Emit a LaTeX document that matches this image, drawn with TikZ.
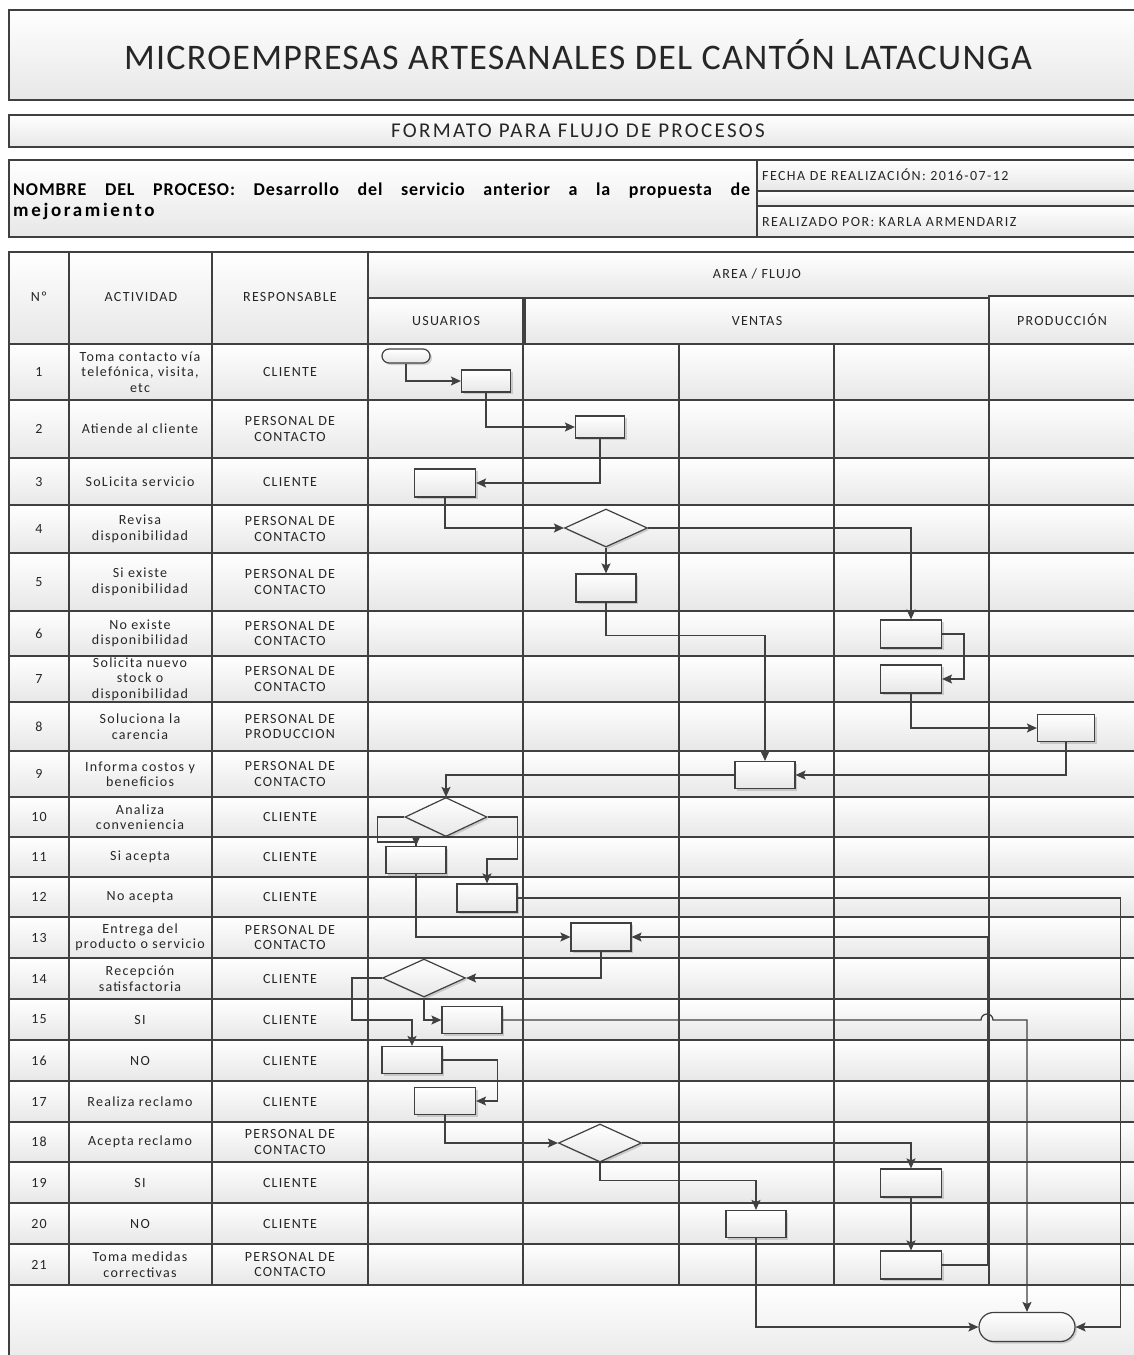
\documentclass[tikz,border=0pt]{standalone}
\usepackage{fontspec}
\setmainfont{Carlito}
\newfontfamily\tabfont[LetterSpace=9]{Carlito}
\newfontfamily\titlefont[LetterSpace=3.5]{Carlito}
\newfontfamily\formfont[LetterSpace=11]{Carlito}
\newfontfamily\infofont[LetterSpace=10]{Carlito}
\newfontfamily\namefont[LetterSpace=5]{Carlito}
\newfontfamily\namewidefont[LetterSpace=14]{Carlito}
\usetikzlibrary{arrows.meta,shapes.geometric,shadows}
\definecolor{linec}{HTML}{404040}
\definecolor{cellbot}{HTML}{E7E7E7}
\tikzset{
  cell/.style={draw=linec, line width=1.2pt, top color=white, bottom color=cellbot},
  hdr/.style={draw=linec, line width=1.2pt, top color=white, bottom color=cellbot},
  shape base/.style={draw=linec, line width=1.2pt, top color=white, bottom color=cellbot,
    inner sep=0pt, drop shadow={shadow xshift=2pt, shadow yshift=-2pt, fill=black, opacity=0.15}},
  flowbox/.style={shape base, rectangle, minimum width=60pt, minimum height=28pt},
  decision/.style={shape base, diamond, minimum width=83pt, minimum height=38pt},
  terminal/.style={shape base, rectangle},
  link/.style={draw=linec, line width=1.3pt},
  flow/.style={link, -{Stealth[length=10pt, width=9pt, inset=2pt]}},
  tcell/.style={font=\tabfont\fontsize{14}{15.5}\selectfont, align=center, inner sep=0pt, text=black!85},
  thead/.style={font=\tabfont\fontsize{14}{15.5}\selectfont, align=center, inner sep=0pt, text=black!85},
}
\begin{document}
\begin{tikzpicture}[x=1pt, y=-1pt]
\useasboundingbox (0,0) rectangle (1134,1355);
\clip (0,0) rectangle (1134,1355);
\fill[white] (0,0) rectangle (1134,1355);

% ---- title blocks ----
\path[hdr] (9,10) rectangle (1140,100);
\node[font=\titlefont\fontsize{36}{42}\selectfont, text=black!85] (title) at (578,55)
  {MICROEMPRESAS ARTESANALES DEL CANTÓN LATACUNGA};
\path[hdr] (9,115) rectangle (1140,147);
\node[font=\formfont\fontsize{21}{24}\selectfont, text=black!85] (formato) at (578,131)
  {FORMATO PARA FLUJO DE PROCESOS};
\path[hdr] (9,160) rectangle (757,237);
\path[hdr] (757,160) rectangle (1140,191);
\path[hdr] (757,191) rectangle (1140,206);
\path[hdr] (757,206) rectangle (1140,237);
\node[anchor=base west, inner sep=0pt, font=\namefont\bfseries\fontsize{18}{22}\selectfont] (nombre1) at (13,195)
  {\makebox[737pt][s]{NOMBRE DEL PROCESO: Desarrollo del servicio anterior a la propuesta de}};
\node[anchor=base west, inner sep=0pt, font=\namewidefont\bfseries\fontsize{19}{22}\selectfont] (nombre2) at (13,216)
  {mejoramiento};
\node[anchor=west, inner sep=0pt, font=\infofont\fontsize{14}{16}\selectfont, text=black!85] (fecha) at (762,175)
  {FECHA DE REALIZACIÓN: 2016-07-12};
\node[anchor=west, inner sep=0pt, font=\infofont\fontsize{14}{16}\selectfont, text=black!85] (autor) at (762,222)
  {REALIZADO POR: KARLA ARMENDARIZ};

% ---- table header ----
\path[hdr] (9,252) rectangle (69,344);
\path[hdr] (69,252) rectangle (212,344);
\path[hdr] (212,252) rectangle (368,344);
\path[hdr] (368,252) rectangle (1140,298);
\path[hdr] (368,298) rectangle (523,344);
\path[hdr] (525,298) rectangle (989,344);
\path[hdr] (989,296) rectangle (1140,344);
\node[thead] (hnum) at (39,297) {Nº};
\node[thead] (hact) at (141,297) {ACTIVIDAD};
\node[thead] (hresp) at (290,297) {RESPONSABLE};
\node[thead] (harea) at (757,274) {AREA / FLUJO};
\node[thead] (husu) at (446,321) {USUARIOS};
\node[thead] (hven) at (757,321) {VENTAS};
\node[thead] (hprod) at (1062,320) {PRODUCCIÓN};

% ---- table body ----
\foreach \i/\t/\b/\act/\resp in {
  1/344/400/{Toma contacto vía\\telefónica, visita,\\etc}/{CLIENTE},
  2/400/458/{Atiende al cliente}/{PERSONAL DE\\CONTACTO},
  3/458/505/{SoLicita servicio}/{CLIENTE},
  4/505/553/{Revisa\\disponibilidad}/{PERSONAL DE\\CONTACTO},
  5/553/611/{Si existe\\disponibilidad}/{PERSONAL DE\\CONTACTO},
  6/611/656/{No existe\\disponibilidad}/{PERSONAL DE\\CONTACTO},
  7/656/702/{Solicita nuevo\\stock o\\disponibilidad}/{PERSONAL DE\\CONTACTO},
  8/702/751/{Soluciona la\\carencia}/{PERSONAL DE\\PRODUCCION},
  9/751/797/{Informa costos y\\beneficios}/{PERSONAL DE\\CONTACTO},
  10/797/837/{Analiza\\conveniencia}/{CLIENTE},
  11/837/877/{Si acepta}/{CLIENTE},
  12/877/917/{No acepta}/{CLIENTE},
  13/917/958/{Entrega del\\producto o servicio}/{PERSONAL DE\\CONTACTO},
  14/958/999/{Recepción\\satisfactoria}/{CLIENTE},
  15/999/1040/{SI}/{CLIENTE},
  16/1040/1081/{NO}/{CLIENTE},
  17/1081/1122/{Realiza reclamo}/{CLIENTE},
  18/1122/1162/{Acepta reclamo}/{PERSONAL DE\\CONTACTO},
  19/1162/1203/{SI}/{CLIENTE},
  20/1203/1244/{NO}/{CLIENTE},
  21/1244/1285/{Toma medidas\\correctivas}/{PERSONAL DE\\CONTACTO}} {
  \foreach \xa/\xb in {9/69,69/212,212/368,368/523,523/679,679/834,834/989,989/1140}
    \path[cell] (\xa,\t) rectangle (\xb,\b);
  \node[tcell] (num\i) at (39,{(\t+\b)/2}) {\i};
  \node[tcell] (act\i) at (140,{(\t+\b)/2}) {\act};
  \node[tcell] (resp\i) at (290,{(\t+\b)/2}) {\resp};
}
\path[cell] (9,1285) rectangle (1140,1370);

% ---- flow shapes ----
\node[terminal, minimum width=48pt, minimum height=14pt, rounded corners=7pt] (start) at (406,356) {};
\node[flowbox, minimum width=49pt, minimum height=22pt] (b1) at (486,381) {};
\node[flowbox, minimum width=49pt, minimum height=22pt] (b2) at (600,427) {};
\node[flowbox, minimum width=61pt] (b3) at (445,483) {};
\node[decision] (d4) at (606,528) {};
\node[flowbox] (b5) at (606,588) {};
\node[flowbox, minimum width=61pt] (b6) at (911,634) {};
\node[flowbox, minimum width=61pt] (b7) at (911,679) {};
\node[flowbox, minimum width=57pt, minimum height=27pt] (b8) at (1066,728) {};
\node[flowbox, minimum height=27pt] (b9) at (765,775) {};
\node[decision, minimum width=82pt, minimum height=39pt] (d10) at (446,817) {};
\node[flowbox, minimum height=27pt] (b11) at (416,860) {};
\node[flowbox] (b12) at (487,898) {};
\node[flowbox] (b13) at (601,937) {};
\node[decision] (d14) at (424,978) {};
\node[flowbox, minimum height=27pt] (b15) at (472,1020) {};
\node[flowbox, minimum height=27pt] (b16) at (412,1060) {};
\node[flowbox, minimum width=61pt, minimum height=27pt] (b17) at (445,1101) {};
\node[decision] (d18) at (600,1143) {};
\node[flowbox, minimum width=61pt] (b19) at (911,1183) {};
\node[flowbox, minimum height=27pt] (b20) at (756,1224) {};
\node[flowbox, minimum width=61pt] (b21) at (911,1265) {};
\node[terminal, minimum width=96pt, minimum height=29pt, rounded corners=14.5pt] (end) at (1027,1327) {};
\coordinate (hop) at (987,1020);

% ---- connectors ----
\draw[flow] (start.south) |- (b1.west);
\draw[flow] (b1.south) |- (b2.west);
\draw[flow] (b2.south) |- (b3.east);
\draw[flow] (b3.south) |- (d4.west);
\draw[flow] (d4.east) -| (b6.north);
\draw[flow] (d4.south) -- (b5.north);
\draw[flow] (b5.south) -- ++(0,33) -| (b9.north);
\draw[flow] (b6.east) -- ++(22,0) |- (b7.east);
\draw[flow] (b7.south) |- (b8.west);
\draw[flow] (b8.south) |- (b9.east);
\draw[flow] (b9.west) -| (d10.north);
\draw[link] (d10.west) -| ++(-27,25) -| (b11.north);
\draw[flow] ([yshift=10pt]b11.north) -- (b11.north);
\draw[flow] (d10.east) -| ++(30,42) -| (b12.north);
\draw[flow] (b11.south) |- (b13.west);
\draw[flow] (b12.east) -- ++(603,0) |- (end.east);
\draw[flow] (b13.south) |- (d14.east);
\draw[flow] (d14.west) -| ++(-30,42) -| (b16.north);
\draw[flow] (d14.south) |- (b15.west);
\draw[flow] (b21.east) -- ++(45.5,0) |- (b13.east);
\draw[flow] (b15.east) -- ([xshift=-6pt]hop) arc[start angle=180, end angle=360, radius=6] -| (end.north);
\draw[flow] (b16.east) -- ++(55,0) |- (b17.east);
\draw[flow] (b17.south) |- (d18.west);
\draw[flow] (d18.east) -| (b19.north);
\draw[flow] (d18.south) -- ++(0,18) -| (b20.north);
\draw[flow] (b19.south) -- (b21.north);
\draw[flow] (b20.south) |- (end.west);
\end{tikzpicture}
\end{document}
